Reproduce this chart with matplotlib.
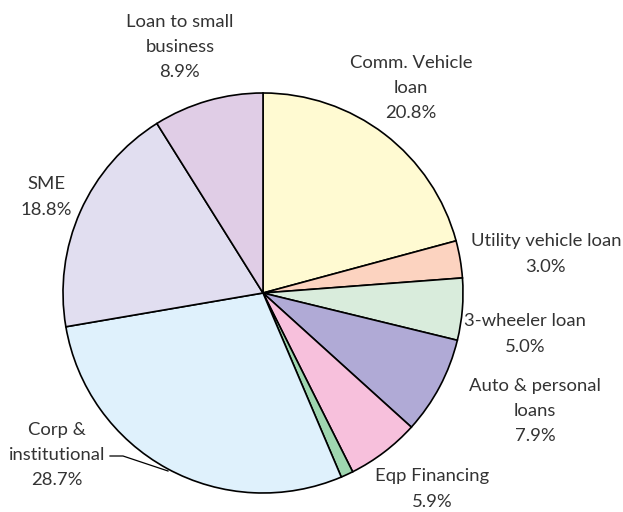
import matplotlib
matplotlib.use("Agg")
import matplotlib.pyplot as plt

# loan book mix, clockwise from 12 o'clock
segments = ["Comm. Vehicle\nloan", "Utility vehicle loan", "3-wheeler loan",
            "Auto & personal\nloans", "Eqp Financing", "Other",
            "Corp &\ninstitutional", "SME", "Loan to small\nbusiness"]
shares = [20.8, 3.0, 5.0, 7.9, 5.9, 1.0, 28.7, 18.8, 8.9]
colors = ["#fffad2", "#fcd3c0", "#d9ecdc", "#b0aad6", "#f7c0dc",
          "#9fd6b0", "#dff1fc", "#e1def0", "#e0cde6"]

# label anchors (figure pixels, y downwards)
label_xy = {
    "Comm. Vehicle\nloan": (411, 88),
    "Utility vehicle loan": (546, 254),
    "3-wheeler loan": (525, 334),
    "Auto & personal\nloans": (535, 411),
    "Eqp Financing": (432, 489),
    "Corp &\ninstitutional": (57, 455),
    "SME": (46, 197),
    "Loan to small\nbusiness": (180, 47),
}

W, H = 623, 512
fig = plt.figure(figsize=(W / 100, H / 100), dpi=100)
ax = fig.add_axes([0, 0, 1, 1])

cx, cy, r = 263, H - 293, 200
ax.pie(shares, colors=colors, startangle=90, counterclock=False,
       center=(cx, cy), radius=r, frame=True,
       wedgeprops=dict(edgecolor="black", linewidth=1.2))
ax.set_xlim(0, W)
ax.set_ylim(0, H)
ax.set_aspect("equal")
ax.axis("off")

font = dict(family=["Lato", "DejaVu Sans"], fontsize=13.3,
            color="#333333", ha="center", va="center", linespacing=1.72)
for name, val in zip(segments, shares):
    if name not in label_xy:
        continue
    x, y = label_xy[name]
    ax.text(x, H - y, f"{name}\n{val:.1f}%", **font)

# leader line for the corporate slice
ax.plot([110, 123, 168], [H - 456, H - 456, H - 471], color="black", lw=0.9)

fig.savefig("out.png", dpi=100)
